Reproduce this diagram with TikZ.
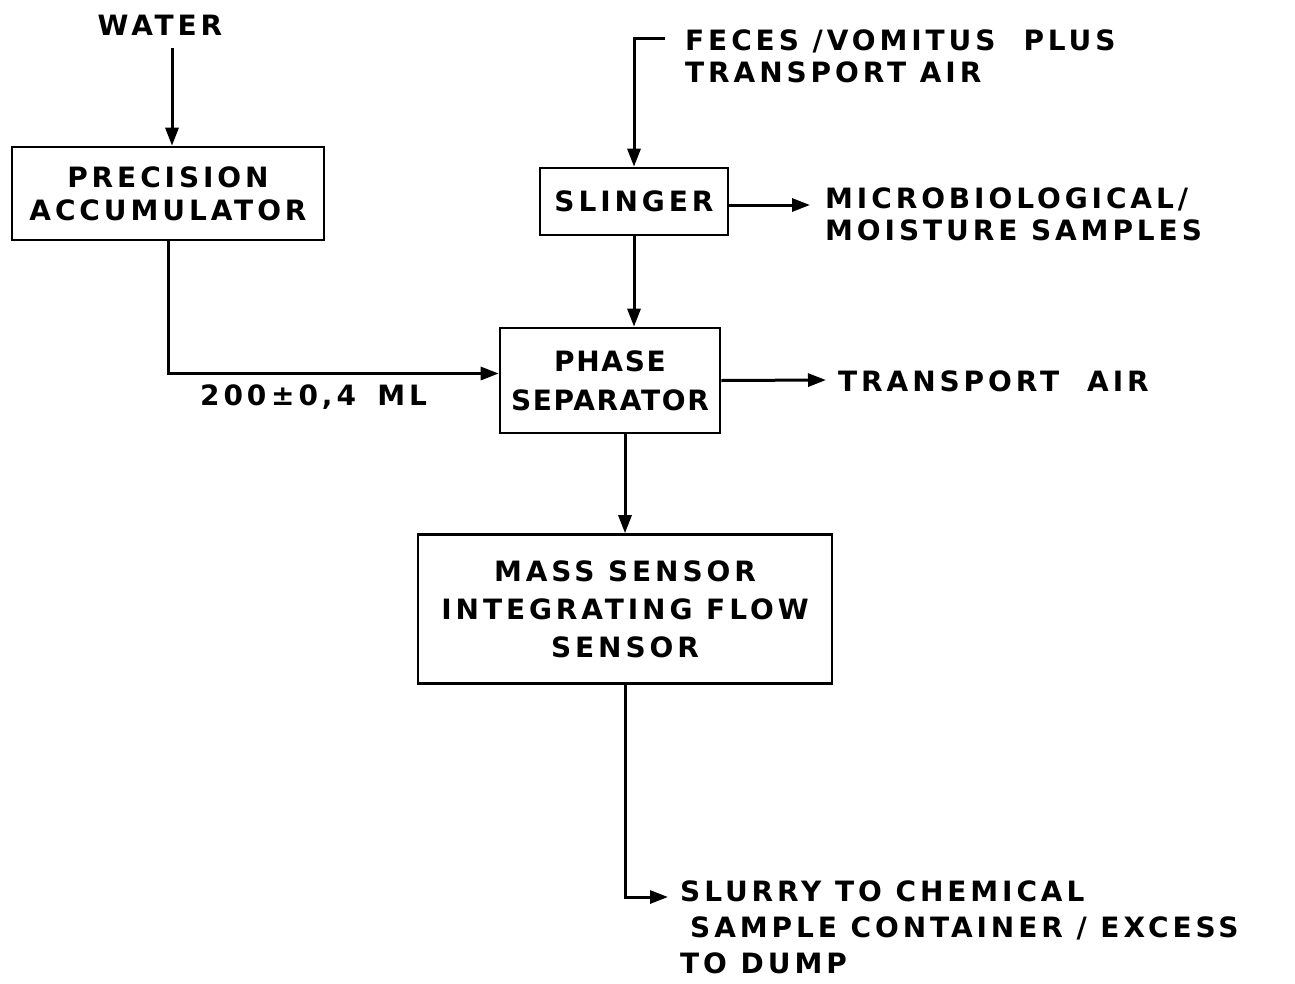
\documentclass[tikz,border=0pt]{standalone}
\usepackage{fontspec}
\setmainfont{DejaVu Sans}[LetterSpace=14]
\usetikzlibrary{arrows.meta}
\begin{document}
\begin{tikzpicture}[x=1pt,y=-1pt,
  box/.style={draw, line width=2.6pt, inner sep=0pt, align=center,
    font=\fontsize{28}{33}\bfseries\selectfont},
  lbl/.style={inner sep=0pt, align=left, font=\fontsize{28}{32}\bfseries\selectfont},
  flow/.style={line width=3pt, -{Triangle[length=18pt,width=13pt]}}]
\useasboundingbox (0,0) rectangle (1295,983);

% process blocks
\node[box, minimum width=312pt, minimum height=93pt] (acc) at (168,193.5)
  {PRECISION\\ACCUMULATOR};
\node[box, minimum width=188pt, minimum height=67pt] (sling) at (634,201.5)
  {SLINGER};
\node[box, minimum width=220pt, minimum height=105pt,
  font=\fontsize{28}{43}\bfseries\selectfont\addfontfeatures{LetterSpace=6}] (phase) at (610,380.5)
  {\raisebox{-4pt}{PHASE}\\SEPARATOR};
\node[box, minimum width=414pt, minimum height=149pt,
  font=\fontsize{28}{38}\bfseries\selectfont] (mass) at (625,609)
  {MASS SENSOR\\INTEGRATING FLOW\\SENSOR};

% stream labels
\node[lbl] (water) at (160,25) {WATER};
\node[lbl, anchor=north west] (feces) at (685,30)
  {FECES /VOMITUS\quad PLUS\\TRANSPORT AIR};
\node[lbl, anchor=north west] (micro) at (825,188)
  {MICROBIOLOGICAL/\\MOISTURE SAMPLES};
\node[lbl, anchor=north west] (dose) at (200,385) {200\,±0,4\; ML};
\node[lbl, anchor=west] (air) at (838,381) {TRANSPORT\quad AIR};
\node[lbl, anchor=north west, font=\fontsize{28}{36}\bfseries\selectfont] (slurry) at (680,881)
  {SLURRY TO CHEMICAL\\\hspace*{10pt}SAMPLE CONTAINER / EXCESS\\TO DUMP};

% free ends of the flow lines
\coordinate (wsrc) at (172,48);
\coordinate (fsrc) at (665,38);
\coordinate (mo) at (810,205);
\coordinate (ta) at (826,380);
\coordinate (sl) at (668,897);

% flows
\draw[flow] (wsrc) -- (wsrc |- acc.north);
\draw[flow] (fsrc) -| (sling.north);
\draw[flow] (sling.east |- mo) -- (mo);
\draw[flow] (sling.south) -- (sling.south |- phase.north);
\draw[flow] (acc.south) |- ([yshift=7pt]phase.west);
\draw[flow] (phase.east) -- (ta);
\draw[flow] (mass.north |- phase.south) -- (mass.north);
\draw[flow] (mass.south) |- (sl);
\end{tikzpicture}
\end{document}
